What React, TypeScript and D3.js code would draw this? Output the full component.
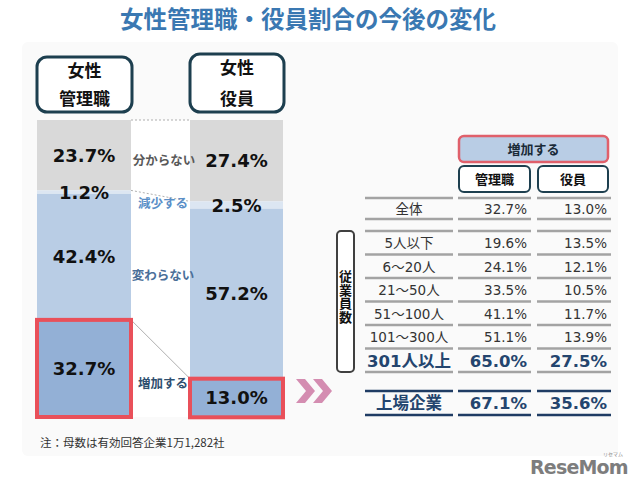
import React from "react";
import * as d3 from "d3";

const segmentLabels = ["分からない", "減少する", "変わらない", "増加する"];
const managerValues = [23.7, 1.2, 42.4, 32.7];
const executiveValues = [27.4, 2.5, 57.2, 13.0];

const rowLabels = ["全体", "5人以下", "6～20人", "21～50人", "51～100人", "101～300人", "301人以上", "上場企業"];
const managerRates = [32.7, 19.6, 24.1, 33.5, 41.1, 51.1, 65.0, 67.1];
const executiveRates = [13.0, 13.5, 12.1, 10.5, 11.7, 13.9, 27.5, 35.6];

const W = 640;
const H = 492;
const JP = "'Noto Sans CJK JP', sans-serif";
const NUM = "'DejaVu Sans', 'Noto Sans CJK JP', sans-serif";

const segColors = ["#d9d9d9", "#dce6f2", "#b9cde5", "#93b0d6"];
const midColors = ["#595959", "#5b8fc7", "#4a6f99", "#2f4f6f"];

export default function App() {
  const y = d3.scaleLinear().domain([0, 100]).range([120, 417]);
  const bars = [
    { x0: 37, x1: 131, values: managerValues },
    { x0: 190, x1: 283, values: executiveValues },
  ];
  const stacks = bars.map((b) => {
    const cum = d3.cumsum(b.values);
    return b.values.map((v, i) => ({ start: cum[i] - v, end: cum[i], v }));
  });

  // table rows
  const rowStep = 23.5;
  const rowY = (i: number) => {
    if (i === 0) return 208.5;
    if (i === rowLabels.length - 1) return 403;
    return 243 + rowStep * (i - 1);
  };
  const fmt = d3.format(".1f");
  const cols = [
    { x0: 365, x1: 453 },
    { x0: 458, x1: 531 },
    { x0: 537, x1: 611 },
  ];
  const grayLine = "#a3a3a3";
  const navy = "#1f3c64";
  const lines: { y: number; c: string }[] = [];
  lines.push({ y: rowY(0) - 10.5, c: grayLine }, { y: rowY(0) + 10.5, c: grayLine });
  for (let k = 0; k <= 6; k++) lines.push({ y: 231 + rowStep * k, c: grayLine });
  const lastY = rowY(rowLabels.length - 1);
  lines.push({ y: lastY - 12, c: navy }, { y: lastY + 12, c: navy });

  const connectorIdx = [0, 1, 3];

  return (
    <svg width={W} height={H} style={{ position: "absolute", left: 0, top: 0, background: "#fff" }}>
      <rect x={22} y={42} width={596} height={414} rx={6} fill="#fafafa" />
      <text x={308} y={28} textAnchor="middle" fontFamily={JP} fontWeight={700} fontSize={23.5} fill="#3a78b2">
        女性管理職・役員割合の今後の変化
      </text>

      {/* header boxes */}
      <rect x={37} y={57} width={95} height={55} rx={10} fill="#fff" stroke="#1d3f4f" strokeWidth={3} />
      <text x={84.5} y={76.5} textAnchor="middle" fontFamily={JP} fontWeight={700} fontSize={17} fill="#111">女性</text>
      <text x={84.5} y={104.5} textAnchor="middle" fontFamily={JP} fontWeight={700} fontSize={17} fill="#111">管理職</text>
      <rect x={190} y={54} width={94} height={58} rx={10} fill="#fff" stroke="#1d3f4f" strokeWidth={3} />
      <text x={237} y={73.5} textAnchor="middle" fontFamily={JP} fontWeight={700} fontSize={17} fill="#111">女性</text>
      <text x={237} y={104.5} textAnchor="middle" fontFamily={JP} fontWeight={700} fontSize={17} fill="#111">役員</text>

      {/* middle white area */}
      <rect x={131} y={120} width={59} height={297} fill="#fff" />

      {/* stacked bars */}
      {bars.map((b, bi) =>
        stacks[bi].map((s, i) => (
          <rect key={`s${bi}-${i}`} x={b.x0} y={y(s.start)} width={b.x1 - b.x0} height={y(s.end) - y(s.start)} fill={segColors[i]} />
        ))
      )}

      {/* connectors */}
      {connectorIdx.map((ci, k) => {
        const ly = ci === 0 ? y(0) : y(stacks[0][ci - 1].end);
        const ry = ci === 0 ? y(0) : y(stacks[1][ci - 1].end);
        return (
          <line key={`c${k}`} x1={bars[0].x1} y1={ly} x2={bars[1].x0} y2={ry} stroke="#9a9a9a" strokeWidth={0.8} strokeDasharray={k === 2 ? undefined : "2,2"} />
        );
      })}

      {/* red outlines on 増加する */}
      {bars.map((b, bi) => {
        const s = stacks[bi][3];
        return (
          <rect key={`r${bi}`} x={b.x0} y={y(s.start)} width={b.x1 - b.x0} height={y(s.end) - y(s.start)} fill="none" stroke="#e9505a" strokeWidth={4} />
        );
      })}

      {/* value labels */}
      {bars.map((b, bi) =>
        stacks[bi].map((s, i) => (
          <text key={`v${bi}-${i}`} x={(b.x0 + b.x1) / 2} y={(y(s.start) + y(s.end)) / 2 + 6.5} textAnchor="middle" fontFamily={NUM} fontWeight={700} fontSize={18} fill="#111">
            {fmt(s.v)}%
          </text>
        ))
      )}

      {/* middle category labels */}
      {segmentLabels.map((lab, i) => {
        const c0 = (y(stacks[0][i].start) + y(stacks[0][i].end)) / 2;
        const c1 = (y(stacks[1][i].start) + y(stacks[1][i].end)) / 2;
        const cy = i === 0 ? c1 : i === 1 ? c1 - 2 : (c0 + c1) / 2;
        return (
          <text key={`m${i}`} x={i === 0 ? 164 : 163} y={cy + 4.5} textAnchor="middle" fontFamily={JP} fontWeight={700} fontSize={12.5} fill={midColors[i]}>
            {lab}
          </text>
        );
      })}

      {/* chevrons */}
      {[0, 17].map((dx, i) => (
        <path key={`ch${i}`} d={`M${296 + dx},379 L${305 + dx},379 L${315 + dx},391 L${305 + dx},403 L${296 + dx},403 L${306 + dx},391 Z`} fill="#d48db1" />
      ))}

      <text x={40} y={447} fontFamily={JP} fontSize={11.5} fill="#333">注：母数は有効回答企業1万1,282社</text>

      {/* table header */}
      <rect x={459} y={136} width={149} height={26} rx={5} fill="#b9cde5" stroke="#e0606b" strokeWidth={2.5} />
      <text x={533.5} y={153.5} textAnchor="middle" fontFamily={JP} fontWeight={700} fontSize={13} fill="#1a2a38">増加する</text>
      <rect x={459} y={166} width={71} height={26} rx={5} fill="#fff" stroke="#1d3f4f" strokeWidth={2} />
      <text x={494.5} y={183.5} textAnchor="middle" fontFamily={JP} fontWeight={700} fontSize={13} fill="#111">管理職</text>
      <rect x={538} y={166} width={70} height={26} rx={5} fill="#fff" stroke="#1d3f4f" strokeWidth={2} />
      <text x={573} y={183.5} textAnchor="middle" fontFamily={JP} fontWeight={700} fontSize={13} fill="#111">役員</text>

      {/* table lines */}
      {lines.map((l, i) =>
        cols.map((c, j) => (
          <line key={`l${i}-${j}`} x1={c.x0} x2={c.x1} y1={l.y} y2={l.y} stroke={l.c} strokeWidth={2.5} />
        ))
      )}

      {/* table rows */}
      {rowLabels.map((lab, i) => {
        const bold = i >= rowLabels.length - 2;
        const fs = bold ? 16.5 : 13.5;
        const col = bold ? "#24456e" : "#333";
        const fw = bold ? 700 : 400;
        const ty = rowY(i) + (bold ? 6 : 5);
        return (
          <g key={`row${i}`}>
            <text x={(cols[0].x0 + cols[0].x1) / 2} y={ty} textAnchor="middle" fontFamily={NUM} fontWeight={fw} fontSize={fs} fill={col}>{lab}</text>
            <text x={527} y={ty} textAnchor="end" fontFamily={NUM} fontWeight={fw} fontSize={fs} fill={col}>{fmt(managerRates[i])}%</text>
            <text x={607} y={ty} textAnchor="end" fontFamily={NUM} fontWeight={fw} fontSize={fs} fill={col}>{fmt(executiveRates[i])}%</text>
          </g>
        );
      })}

      {/* 従業員数 vertical box */}
      <rect x={337} y={231} width={17} height={141} rx={4} fill="#fff" stroke="#404040" strokeWidth={2} />
      <text x={345.5} y={270} fontFamily={JP} fontWeight={700} fontSize={13} fill="#111" style={{ writingMode: "vertical-rl" }} letterSpacing={0.5}>従業員数</text>

      {/* watermark */}
      <text x={530} y={474} fontFamily="'DejaVu Sans', sans-serif" fontWeight={700} fontSize={19} fill="#7d7d7d" letterSpacing={-0.8}>ReseMom</text>
      <text x={603} y={456} fontFamily={JP} fontSize={5} fill="#888">リセマム</text>
    </svg>
  );
}
